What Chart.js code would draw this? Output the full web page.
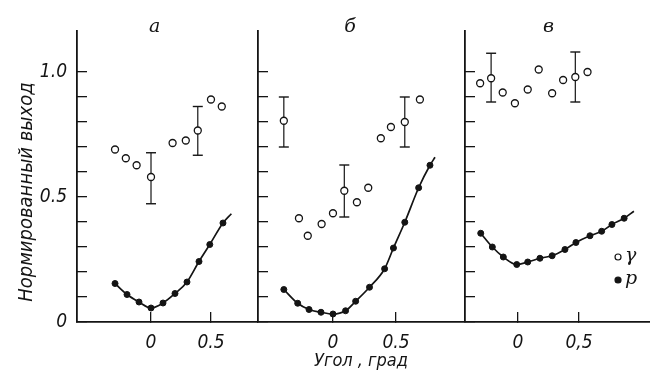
<!DOCTYPE html>
<html>
<head>
<meta charset="utf-8">
<script src="https://cdn.jsdelivr.net/npm/chart.js@4.4.0/dist/chart.umd.min.js"></script>
<style>
  html, body { margin: 0; padding: 0; background: #fff; }
  #wrap { position: relative; width: 650px; height: 379px; overflow: hidden; }
  canvas { position: absolute; top: 0; }
</style>
</head>
<body>
<div id="wrap">
  <canvas id="panelA" width="258" height="379" style="left:0px"></canvas>
  <canvas id="panelB" width="216" height="379" style="left:248px"></canvas>
  <canvas id="panelC" width="196" height="379" style="left:454px"></canvas>
</div>
<script>
// axis ticks shared by the three panels
const yTicks = [0, 0.1, 0.2, 0.3, 0.4, 0.5, 0.6, 0.7, 0.8, 0.9, 1.0]
const yLabelValues = [0, 0.5, 1.0]
const yLabelTexts = ['0', '0.5', '1.0']
const xTicks = [0, 0.5]
const xLabelsDot = ['0', '0.5']
const xLabelsComma = ['0', '0,5']

// panel a
const aGammaX = [-0.30, -0.21, -0.12, 0.0, 0.18, 0.29, 0.39, 0.50, 0.59]
const aGammaY = [0.69, 0.655, 0.627, 0.58, 0.716, 0.726, 0.766, 0.89, 0.862]
const aErrX = [0.0, 0.39]
const aErrLo = [0.473, 0.667]
const aErrHi = [0.677, 0.862]
const aProtonX = [-0.30, -0.20, -0.10, 0.0, 0.10, 0.20, 0.30, 0.40, 0.49, 0.60]
const aProtonY = [0.154, 0.11, 0.08, 0.056, 0.076, 0.114, 0.16, 0.242, 0.31, 0.396]
const aCurveEnd = [0.67, 0.433]

// panel б
const bGammaX = [-0.39, -0.27, -0.20, -0.09, 0.0, 0.09, 0.19, 0.28, 0.38, 0.46, 0.57, 0.69]
const bGammaY = [0.805, 0.415, 0.345, 0.392, 0.435, 0.525, 0.479, 0.537, 0.735, 0.78, 0.80, 0.89]
const bErrX = [-0.39, 0.09, 0.57]
const bErrLo = [0.70, 0.42, 0.70]
const bErrHi = [0.90, 0.628, 0.90]
const bProtonX = [-0.39, -0.28, -0.19, -0.095, 0.0, 0.10, 0.18, 0.29, 0.41, 0.48, 0.57, 0.68, 0.77]
const bProtonY = [0.13, 0.075, 0.05, 0.039, 0.032, 0.045, 0.083, 0.139, 0.213, 0.296, 0.399, 0.537, 0.627]
const bCurveEnd = [0.81, 0.659]

// panel в
const cGammaX = [-0.31, -0.22, -0.125, -0.025, 0.08, 0.17, 0.28, 0.37, 0.47, 0.57]
const cGammaY = [0.955, 0.975, 0.918, 0.875, 0.93, 1.01, 0.915, 0.968, 0.98, 1.0]
const cErrX = [-0.22, 0.47]
const cErrLo = [0.88, 0.88]
const cErrHi = [1.075, 1.08]
const cProtonX = [-0.305, -0.21, -0.12, -0.01, 0.08, 0.18, 0.28, 0.385, 0.475, 0.59, 0.686, 0.77, 0.87]
const cProtonY = [0.355, 0.30, 0.26, 0.23, 0.24, 0.255, 0.265, 0.29, 0.318, 0.345, 0.363, 0.39, 0.415]
const cCurveEnd = [0.95, 0.443]

const ink = '#141414'
const sansFamily = "'DejaVu Sans Condensed', 'Liberation Sans Narrow', 'DejaVu Sans', sans-serif"
const serifFamily = "'DejaVu Serif', 'Liberation Serif', serif"
const tickFont = { family: sansFamily, size: 19, style: 'italic' }



// letters over the panels, y title and the small legend, drawn after the chart
const panelText = {
    id: 'panelText',
    afterDraw: (chart, args, opts) => {
        if (!opts.letter) return
        const { ctx, chartArea, scales } = chart
        ctx.save()
        ctx.fillStyle = ink
        ctx.strokeStyle = ink
        ctx.textBaseline = 'middle'
        ctx.textAlign = 'center'
        ctx.font = 'italic 19px ' + serifFamily
        ctx.fillText(opts.letter, scales.x.getPixelForValue(opts.letterX), chartArea.top - 4)

        if (opts.yTitle) {
            ctx.translate(27, 192)
            ctx.rotate(-Math.PI / 2)
            ctx.font = 'italic 20px ' + sansFamily
            ctx.fillText(opts.yTitle, 0, 0)
            ctx.setTransform(1, 0, 0, 1, 0, 0)
        }

        if (opts.legend) {
            const lx = scales.x.getPixelForValue(opts.legend.x)
            opts.legend.items.forEach(item => {
                const ly = scales.y.getPixelForValue(item.y)
                ctx.beginPath()
                ctx.arc(lx, ly, 3, 0, Math.PI * 2)
                ctx.fillStyle = item.filled ? ink : '#fff'
                ctx.fill()
                ctx.lineWidth = 1.2
                ctx.stroke()
                ctx.fillStyle = ink
                ctx.textAlign = 'left'
                ctx.font = 'italic 19px ' + serifFamily
                ctx.fillText(item.text, lx + 7, ly - 1)
            })
        }
        ctx.restore()
    }
}

Chart.register(panelText)



const renderPanel = (id, p) => {

    const protons = p.protonX.map((x, i) => ({ x, y: p.protonY[i] }))

    const datasets = [
        {
            data: p.gammaX.map((x, i) => ({ x, y: p.gammaY[i] })),
            pointRadius: 3.5,
            pointBackgroundColor: '#fff',
            pointBorderColor: ink,
            pointBorderWidth: 1.3,
            order: 1
        },
        {
            data: protons,
            pointRadius: 3,
            pointBackgroundColor: ink,
            pointBorderColor: ink,
            pointBorderWidth: 1,
            order: 1
        },
        {
            data: [...protons, { x: p.curveEnd[0], y: p.curveEnd[1] }],
            showLine: true,
            cubicInterpolationMode: 'monotone',
            borderColor: ink,
            borderWidth: 1.7,
            pointRadius: 0,
            order: 3
        },
        ...p.errX.map((x, i) => ({
            data: [{ x, y: p.errLo[i] }, { x, y: p.errHi[i] }],
            showLine: true,
            borderColor: ink,
            borderWidth: 1.2,
            pointStyle: 'line',
            pointRadius: 5,
            pointBorderColor: ink,
            pointBorderWidth: 1.4,
            order: 2
        }))
    ]

    const options = {
        responsive: false,
        animation: false,
        events: [],
        layout: { autoPadding: false, padding: { top: 31, right: 0, bottom: 0, left: 0 } },
        plugins: {
            legend: { display: false },
            tooltip: { enabled: false },
            panelText: p.text
        },
        scales: {
            x: {
                type: 'linear',
                min: p.xMin,
                max: p.xMax,
                afterBuildTicks: scale => { scale.ticks = xTicks.map(value => ({ value })) },
                afterFit: scale => {
                    scale.height = 57
                    scale.paddingLeft = 0
                    scale.paddingRight = 0
                },
                border: { color: ink, width: 1.8 },
                grid: { drawOnChartArea: false, tickLength: -10, color: ink, lineWidth: 1.3 },
                ticks: {
                    autoSkip: false,
                    maxRotation: 0,
                    padding: 20,
                    color: ink,
                    font: tickFont,
                    callback: v => p.xLabels[xTicks.indexOf(v)]
                },
                title: {
                    display: !!p.xTitle,
                    text: p.xTitle,
                    color: ink,
                    font: { family: sansFamily, size: 18, style: 'italic' },
                    padding: { top: 0, bottom: 7 }
                }
            },
            y: {
                type: 'linear',
                min: 0,
                max: 1.164,
                afterBuildTicks: scale => { scale.ticks = yTicks.map(value => ({ value })) },
                afterFit: scale => {
                    scale.width = p.yWidth
                    scale.paddingTop = 0
                    scale.paddingBottom = 0
                },
                border: { color: ink, width: 1.8 },
                grid: { drawOnChartArea: false, tickLength: -10, color: ink, lineWidth: 1.3 },
                ticks: {
                    display: p.yLabels,
                    autoSkip: false,
                    padding: 20,
                    color: ink,
                    font: tickFont,
                    callback: v => {
                        const i = yLabelValues.indexOf(v)
                        return i < 0 ? '' : yLabelTexts[i]
                    }
                }
            }
        }
    }

    new Chart(id, { type: 'scatter', data: { datasets }, options })
}



renderPanel('panelA', {
    gammaX: aGammaX, gammaY: aGammaY, errX: aErrX, errLo: aErrLo, errHi: aErrHi,
    protonX: aProtonX, protonY: aProtonY, curveEnd: aCurveEnd,
    xMin: -0.617, xMax: 0.892, xLabels: xLabelsDot, yWidth: 77, yLabels: true,
    text: { letter: 'а', letterX: 0.03, yTitle: 'Нормированный выход' }
})

renderPanel('panelB', {
    gammaX: bGammaX, gammaY: bGammaY, errX: bErrX, errLo: bErrLo, errHi: bErrHi,
    protonX: bProtonX, protonY: bProtonY, curveEnd: bCurveEnd,
    xMin: -0.595, xMax: 1.04, xLabels: xLabelsDot, yWidth: 10, yLabels: false,
    xTitle: 'Угол , град',
    text: { letter: 'б', letterX: 0.135 }
})

renderPanel('panelC', {
    gammaX: cGammaX, gammaY: cGammaY, errX: cErrX, errLo: cErrLo, errHi: cErrHi,
    protonX: cProtonX, protonY: cProtonY, curveEnd: cCurveEnd,
    xMin: -0.434, xMax: 1.082, xLabels: xLabelsComma, yWidth: 11, yLabels: false,
    text: {
        letter: 'в', letterX: 0.25,
        legend: { x: 0.82, items: [{ y: 0.26, text: 'γ', filled: false }, { y: 0.168, text: 'p', filled: true }] }
    }
})
</script>
</body>
</html>
